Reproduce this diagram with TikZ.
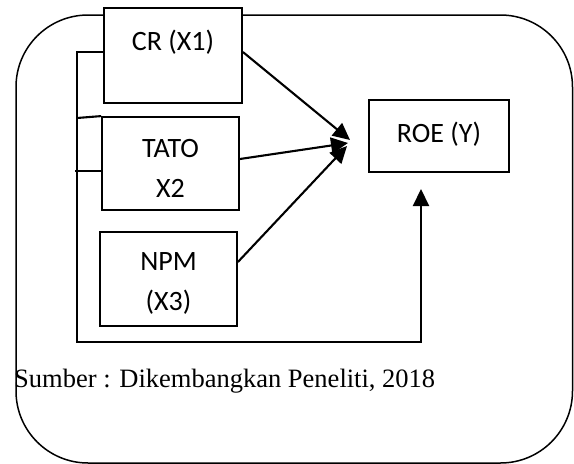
\documentclass[tikz,border=0pt]{standalone}
\usepackage{fontspec}
\setmainfont{Liberation Serif}
\newfontfamily\boxfont{Carlito}
\usetikzlibrary{arrows.meta}
\begin{document}
\begin{tikzpicture}[x=1pt,y=-1pt,
  box/.style={draw, line width=1.8pt, fill=white, inner sep=0pt},
  lbl/.style={font=\boxfont\fontsize{28}{32}\selectfont, anchor=base, inner sep=0pt},
  conn/.style={line width=2.1pt},
  arr/.style={conn, -{Triangle[length=17pt,width=16pt]}}]
\useasboundingbox (0,0) rectangle (574,464);
\draw[line width=1.5pt, rounded corners=72pt] (16,15) rectangle (572.5,463);
% boxes
\node[box, minimum width=138pt, minimum height=95pt] (cr) at (173,55.5) {};
\node[box, minimum width=137pt, minimum height=93pt] (tato) at (170.5,163.5) {};
\node[box, minimum width=137pt, minimum height=94pt] (npm) at (168.5,279) {};
\node[box, minimum width=140pt, minimum height=72pt] (roe) at (439,136) {};
% labels
\node[lbl] (crt) at (173,50) {CR (X1)};
\node[lbl] (tatot) at (170.5,157) {TATO};
\node[lbl] (x2) at (170.5,197) {X2};
\node[lbl] (npmt) at (168.5,270) {NPM};
\node[lbl] (x3) at (168.5,310) {(X3)};
\node[lbl] (roet) at (439,142) {ROE (Y)};
\node[font=\fontsize{26.5}{30}\selectfont, anchor=base west, inner sep=0pt] (src) at (14,387) {Sumber : Dikembangkan Peneliti, 2018};
% bracket
\coordinate (tl) at (77,52);
\coordinate (bl) at (77,342);
\coordinate (br) at (421,342);
\coordinate (tipY) at (421,189);
\coordinate (m1) at (77,118);
\coordinate (m2) at (75,171);
\draw[arr] ([yshift=3.5pt]cr.west) -- (tl) -- (bl) -- (br) -- (tipY);
\draw[conn] (tato.north west) -- (m1);
\draw[conn] ([yshift=-7.5pt]tato.west) -- (m2);
% converging arrows
\coordinate (t1) at (350,140);
\coordinate (t2) at (348,143);
\coordinate (t3) at (347,146);
\draw[arr] ([yshift=3.5pt]cr.east) -- (t1);
\draw[arr] ([yshift=4.5pt]tato.east) -- (t2);
\draw[arr] ([yshift=17pt]npm.east) -- (t3);
\end{tikzpicture}
\end{document}
